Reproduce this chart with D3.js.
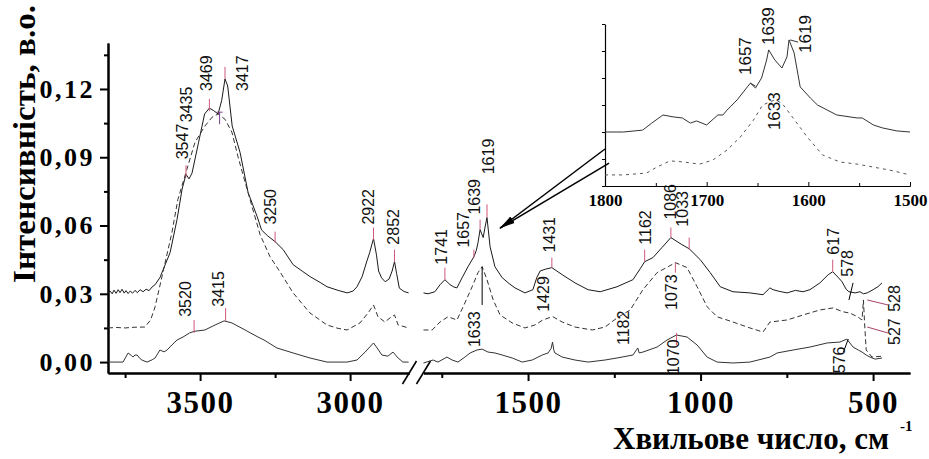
<!DOCTYPE html>
<html>
<head>
<meta charset="utf-8">
<script src="https://cdn.jsdelivr.net/npm/d3@7/dist/d3.min.js"></script>
<style>
	body { margin: 0; background: #fff; }
	svg { display: block; }
	.serif { font-family: "Liberation Serif", "Times New Roman", serif; font-weight: bold; }
	.peak { font-family: "Liberation Sans", Arial, sans-serif; fill: #111; }
</style>
</head>
<body>
<svg id="chart" width="929" height="459"></svg>
<script>
/*global d3 */

// [wavenumber, absorbance] - top solid curve
var topLeft = [[3807,0.0305],[3800,0.0312],[3793,0.0300],[3787,0.0316],[3780,0.0302],[3773,0.0318],[3767,0.0305],[3760,0.0320],[3753,0.0303],[3747,0.0314],[3740,0.0301],[3733,0.0312],[3725,0.0303],[3717,0.0315],[3709,0.0305],[3700,0.0318],[3690,0.0309],[3680,0.0320],[3670,0.0314],[3660,0.0330],[3650,0.0340],[3634,0.0371],[3600,0.0481],[3577,0.0626],[3560,0.0760],[3547,0.0825],[3537,0.0805],[3527,0.0830],[3505,0.0966],[3485,0.1090],[3469,0.1116],[3455,0.1105],[3440,0.1090],[3428,0.1150],[3417,0.1244],[3408,0.1213],[3393,0.1037],[3367,0.0922],[3340,0.0745],[3310,0.0640],[3295,0.0580],[3275,0.0555],[3250,0.0529],[3223,0.0494],[3190,0.0428],[3160,0.0400],[3133,0.0375],[3100,0.0350],[3077,0.0331],[3040,0.0315],[3010,0.0304],[2990,0.0312],[2977,0.0331],[2960,0.0375],[2945,0.0440],[2935,0.0480],[2922,0.0543],[2912,0.0470],[2905,0.0400],[2895,0.0370],[2883,0.0353],[2870,0.0365],[2860,0.0400],[2852,0.0441],[2845,0.0390],[2836,0.0325],[2820,0.0310],[2805,0.0304]];
var topRight = [[1803,0.0304],[1790,0.0300],[1770,0.0309],[1755,0.0340],[1741,0.0362],[1726,0.0340],[1715,0.0330],[1706,0.0326],[1691,0.0371],[1674,0.0419],[1657,0.0463],[1650,0.0490],[1645,0.0525],[1639,0.0582],[1630,0.0547],[1625,0.0590],[1619,0.0635],[1610,0.0507],[1596,0.0419],[1575,0.0371],[1555,0.0345],[1538,0.0326],[1509,0.0304],[1486,0.0318],[1475,0.0370],[1465,0.0400],[1450,0.0408],[1431,0.0415],[1401,0.0384],[1364,0.0348],[1326,0.0318],[1291,0.0309],[1242,0.0331],[1196,0.0362],[1175,0.0410],[1162,0.0441],[1138,0.0459],[1112,0.0503],[1086,0.0547],[1054,0.0516],[1033,0.0498],[1001,0.0450],[972,0.0393],[943,0.0331],[906,0.0309],[857,0.0304],[819,0.0296],[799,0.0326],[790,0.0318],[770,0.0310],[749,0.0304],[725,0.0315],[703,0.0309],[683,0.0318],[654,0.0348],[630,0.0384],[617,0.0397],[600,0.0370],[590,0.0353],[578,0.0320],[570,0.0309],[552,0.0304],[538,0.0309],[528,0.0300],[517,0.0304],[500,0.0318],[486,0.0331],[474,0.0348]];

// dashed middle curve
var dashLeft = [[3807,0.0150],[3780,0.0152],[3750,0.0150],[3720,0.0153],[3684,0.0154],[3665,0.0185],[3650,0.0243],[3624,0.0393],[3594,0.0569],[3574,0.0715],[3544,0.0847],[3517,0.0966],[3484,0.1037],[3460,0.1076],[3440,0.1090],[3417,0.1067],[3394,0.1010],[3374,0.0904],[3350,0.0790],[3327,0.0684],[3300,0.0560],[3267,0.0463],[3234,0.0397],[3190,0.0304],[3134,0.0216],[3077,0.0163],[3040,0.0148],[3010,0.0141],[2967,0.0172],[2940,0.0216],[2922,0.0251],[2907,0.0199],[2884,0.0176],[2867,0.0194],[2852,0.0207],[2840,0.0163],[2805,0.0150]];
var dashRight = [[1803,0.0141],[1778,0.0141],[1755,0.0176],[1732,0.0199],[1706,0.0185],[1683,0.0260],[1662,0.0331],[1645,0.0393],[1633,0.0419],[1619,0.0362],[1601,0.0273],[1581,0.0207],[1546,0.0172],[1509,0.0150],[1480,0.0163],[1457,0.0185],[1429,0.0200],[1401,0.0176],[1364,0.0154],[1314,0.0141],[1277,0.0154],[1242,0.0194],[1204,0.0229],[1167,0.0318],[1126,0.0393],[1094,0.0419],[1073,0.0437],[1039,0.0415],[1010,0.0331],[981,0.0243],[952,0.0199],[906,0.0176],[857,0.0150],[819,0.0132],[799,0.0176],[749,0.0185],[703,0.0207],[654,0.0229],[616,0.0238],[587,0.0221],[567,0.0215],[546,0.0200],[532,0.0185],[528,0.0273],[524,0.0154],[520,0.0053],[503,0.0022],[474,0.0026]];

// bottom solid curve
var botLeft = [[3807,0.0000],[3770,0.0000],[3757,0.0000],[3740,0.0040],[3730,0.0030],[3724,0.0022],[3717,0.0031],[3710,0.0031],[3700,0.0015],[3694,0.0009],[3677,0.0000],[3660,0.0010],[3650,0.0018],[3634,0.0053],[3620,0.0045],[3610,0.0053],[3594,0.0075],[3577,0.0097],[3557,0.0110],[3535,0.0128],[3520,0.0135],[3484,0.0141],[3450,0.0163],[3420,0.0181],[3394,0.0172],[3350,0.0141],[3307,0.0110],[3287,0.0097],[3244,0.0062],[3190,0.0040],[3134,0.0018],[3077,0.0000],[3010,0.0000],[2977,0.0009],[2950,0.0044],[2922,0.0084],[2910,0.0062],[2894,0.0031],[2874,0.0026],[2857,0.0044],[2840,0.0018],[2824,0.0000],[2805,0.0000]];
var botRight = [[1803,-0.0004],[1775,0.0009],[1761,0.0000],[1735,0.0022],[1720,0.0009],[1703,0.0000],[1683,0.0022],[1668,0.0040],[1648,0.0053],[1633,0.0057],[1616,0.0044],[1596,0.0040],[1575,0.0031],[1546,0.0018],[1517,0.0000],[1488,0.0009],[1459,0.0031],[1442,0.0040],[1433,0.0060],[1429,0.0088],[1425,0.0050],[1422,0.0040],[1401,0.0022],[1364,0.0009],[1326,0.0000],[1277,0.0009],[1242,0.0018],[1196,0.0031],[1182,0.0062],[1178,0.0040],[1167,0.0044],[1126,0.0066],[1097,0.0097],[1070,0.0119],[1039,0.0110],[1010,0.0075],[981,0.0022],[952,0.0000],[906,-0.0004],[857,0.0000],[799,0.0022],[778,0.0040],[732,0.0053],[683,0.0066],[633,0.0084],[596,0.0088],[576,0.0101],[558,0.0066],[543,0.0053],[532,0.0044],[520,0.0031],[509,0.0022],[494,0.0013],[474,0.0018]];

// inset (1800-1500), arbitrary units
var insetTop = [[1800,2.00],[1782,2.00],[1763,2.07],[1754,2.33],[1743,2.63],[1733,2.56],[1724,2.52],[1716,2.33],[1710,2.41],[1700,2.26],[1689,2.63],[1684,2.63],[1680,2.81],[1670,3.19],[1660,3.67],[1657,3.81],[1652,3.63],[1646,4.00],[1641,4.67],[1639,5.04],[1633,4.67],[1626,4.37],[1621,4.78],[1619,5.41],[1614,4.93],[1608,3.67],[1598,3.26],[1591,3.00],[1572,2.63],[1552,2.52],[1547,2.52],[1536,2.26],[1527,2.15],[1513,2.04],[1500,2.00]];
var insetDash = [[1800,0.41],[1782,0.41],[1759,0.48],[1749,0.70],[1736,0.93],[1723,0.89],[1707,0.81],[1694,0.96],[1680,1.33],[1667,1.81],[1654,2.44],[1645,3.00],[1633,3.19],[1626,3.07],[1615,2.52],[1601,1.81],[1586,1.15],[1569,0.89],[1552,0.81],[1536,0.70],[1520,0.59],[1500,0.41]];

var yMajor = [0, 0.03, 0.06, 0.09, 0.12];
var yMinor = [0.015, 0.045, 0.075, 0.105, 0.135];
var xLeftMajor = [3500, 3000], xLeftMinor = [3750, 3250];
var xRightMajor = [1500, 1000, 500], xRightMinor = [1750, 1250, 750];
var insetMajor = [1800, 1700, 1600, 1500], insetMinor = [1750, 1650, 1550];
var insetYTicks = [0, 1, 2, 3, 4, 5, 6];

// [text, wavenumber, absorbance] of the label start
var peakLabels = [['3547',3560,0.0891],['3435',3547,0.1054],['3469',3480,0.1191],['3417',3360,0.1191],['3250',3264,0.0604],['2922',2940,0.0604],['2852',2857,0.0516],['3520',3550,0.0199],['3415',3440,0.0243],['1741',1752,0.0428],['1657',1686,0.0503],['1639',1654,0.0648],['1619',1616,0.0825],['1431',1439,0.0481],['1633',1654,0.0066],['1429',1454,0.0221],['1162',1161,0.0516],['1086',1088,0.0626],['1033',1051,0.0595],['1182',1222,0.0075],['1073',1085,0.0229],['1070',1079,-0.0057],['617',616,0.0472],['578',573,0.0375],['528',439,0.0221],['527',439,0.0075],['576',596,-0.0049]];
var insetLabels = [['1657',1662,4.11],['1639',1639,5.22],['1619',1603,4.93],['1633',1633,2.07]];

// [wavenumber, from, to]
var pinkTicks = [[3547,0.0812,0.0865],[3469,0.1103,0.1156],[3417,0.1244,0.1297],[3250,0.0525,0.0573],[2922,0.0538,0.0591],[2852,0.0441,0.0494],[3520,0.0128,0.0185],[3415,0.0181,0.0238],[1741,0.0362,0.0415],[1657,0.0459,0.0494],[1639,0.0582,0.0626],[1619,0.0635,0.0693],[1431,0.0415,0.0459],[1162,0.0441,0.0494],[1086,0.0547,0.0591],[1033,0.0494,0.0547],[617,0.0397,0.0450],[1073,0.0393,0.0437],[1070,0.0075,0.0128]];
var purpleTicks = [[3435,0.1045,0.1098]];
var blackTicks = [[1633,0.0251,0.0419]];
// [w1, v1, w2, v2]
var pinkLeaders = [[517,0.0273,457,0.0251],[517,0.0154,457,0.0128]];
var blackLeaders = [[558,0.0348,570,0.0273],[572,0.0101,586,0.0044]];
var insetLeaders = [[1618,5.41,1610,5.33],[1657,3.81,1652,3.70]];

(function () {
	'use strict';
	var svg = d3.select('#chart'),
		y, xl, xr, ix, iy, seg,
		drawCurve, drawTicks, drawAxisX, styleAxis, g, arrowFrom;

	y = d3.scaleLinear().domain([-0.0048, 0.1402]).range([373, 43]);
	xl = d3.scaleLinear().domain([3807, 2802]).range([108, 409.5]);
	xr = d3.scaleLinear().domain([1803, 393]).range([423.5, 910]);
	ix = d3.scaleLinear().domain([1800, 1500]).range([605, 910]);
	iy = d3.scaleLinear().domain([0, 6]).range([186, 24]);

	seg = function (w) {
		return w > 2000 ? xl(w) : xr(w);
	};

	drawCurve = function (data, xs, ys, dash, color) {
		svg.append('path')
			.datum(data)
			.attr('fill', 'none')
			.attr('stroke', color)
			.attr('stroke-width', 1)
			.attr('stroke-dasharray', dash)
			.attr('d', d3.line().x(function (d) { return xs(d[0]); }).y(function (d) { return ys(d[1]); }));
	};

	styleAxis = function (sel, fontSize, spacing) {
		sel.select('.domain').attr('stroke-width', 2);
		sel.selectAll('.tick line').attr('stroke-width', 2);
		sel.selectAll('text')
			.attr('class', 'serif')
			.style('font-size', fontSize + 'px')
			.style('letter-spacing', spacing + 'px')
			.attr('fill', '#000');
		sel.attr('font-family', null).attr('font-size', null);
	};

	// y axis
	g = svg.append('g').attr('transform', 'translate(108,0)')
		.call(d3.axisLeft(y).tickValues(yMinor).tickSize(4).tickSizeOuter(0).tickFormat(''));
	styleAxis(g, 26, 0);
	g = svg.append('g').attr('transform', 'translate(108,0)')
		.call(d3.axisLeft(y).tickValues(yMajor).tickSize(8).tickSizeOuter(0).tickPadding(5)
			.tickFormat(function (d) { return d.toFixed(2).replace('.', ','); }));
	styleAxis(g, 26, 2.5);

	// broken x axis
	drawAxisX = function (xs, major, minor) {
		var a = svg.append('g').attr('transform', 'translate(0,373)')
			.call(d3.axisBottom(xs).tickValues(minor).tickSize(5).tickSizeOuter(0).tickFormat(''));
		styleAxis(a, 31, 0);
		a = svg.append('g').attr('transform', 'translate(0,373)')
			.call(d3.axisBottom(xs).tickValues(major).tickSize(8).tickSizeOuter(0).tickPadding(10).tickFormat(d3.format('d')));
		styleAxis(a, 31, 1.5);
	};
	drawAxisX(xl, xLeftMajor, xLeftMinor);
	drawAxisX(xr, xRightMajor, xRightMinor);

	[xl.range()[1], xr.range()[0]].forEach(function (bx) {
		svg.append('line')
			.attr('x1', bx - 7).attr('y1', 384)
			.attr('x2', bx + 7).attr('y2', 361)
			.attr('stroke', '#000').attr('stroke-width', 1.6);
	});

	// curves
	drawCurve(topLeft, xl, y, null, '#1a1a1a');
	drawCurve(topRight, xr, y, null, '#1a1a1a');
	drawCurve(dashLeft, xl, y, '5,3', '#333');
	drawCurve(dashRight, xr, y, '5,3', '#333');
	drawCurve(botLeft, xl, y, null, '#333');
	drawCurve(botRight, xr, y, null, '#333');

	// peak markers
	drawTicks = function (data, color) {
		svg.selectAll(null).data(data).enter().append('line')
			.attr('x1', function (d) { return seg(d[0]); })
			.attr('x2', function (d) { return seg(d[0]); })
			.attr('y1', function (d) { return y(d[1]); })
			.attr('y2', function (d) { return y(d[2]); })
			.attr('stroke', color).attr('stroke-width', 1);
	};
	drawTicks(pinkTicks, '#d2587a');
	drawTicks(purpleTicks, '#7a3f8a');
	drawTicks(blackTicks, '#000');
	svg.selectAll(null).data(purpleTicks).enter().append('line')
		.attr('x1', function (d) { return seg(d[0]) - 3; })
		.attr('x2', function (d) { return seg(d[0]) + 3; })
		.attr('y1', function (d) { return y(d[2]); })
		.attr('y2', function (d) { return y(d[2]); })
		.attr('stroke', '#7a3f8a').attr('stroke-width', 1);

	svg.selectAll(null).data(pinkLeaders.concat(blackLeaders)).enter().append('line')
		.attr('x1', function (d) { return seg(d[0]); })
		.attr('y1', function (d) { return y(d[1]); })
		.attr('x2', function (d) { return seg(d[2]); })
		.attr('y2', function (d) { return y(d[3]); })
		.attr('stroke', function (d, i) { return i < pinkLeaders.length ? '#a8406a' : '#000'; })
		.attr('stroke-width', 1);

	svg.selectAll(null).data(peakLabels).enter().append('text')
		.attr('class', 'peak')
		.attr('transform', function (d) { return 'translate(' + seg(d[1]) + ',' + y(d[2]) + ') rotate(-90)'; })
		.attr('dominant-baseline', 'central')
		.style('font-size', '16px')
		.text(function (d) { return d[0]; });

	// inset
	g = svg.append('g').attr('transform', 'translate(0,186)')
		.call(d3.axisBottom(ix).tickValues(insetMinor).tickSize(-3).tickSizeOuter(0).tickFormat(''));
	styleAxis(g, 17, 0);
	g.select('.domain').attr('stroke-width', 1.2);
	g.selectAll('.tick line').attr('stroke-width', 1);
	g = svg.append('g').attr('transform', 'translate(0,186)')
		.call(d3.axisBottom(ix).tickValues(insetMajor).tickSize(-4).tickSizeOuter(0).tickPadding(8).tickFormat(d3.format('d')));
	styleAxis(g, 17, 0);
	g.select('.domain').attr('stroke-width', 1.2);
	g.selectAll('.tick line').attr('stroke-width', 1);
	g = svg.append('g').attr('transform', 'translate(605,0)')
		.call(d3.axisLeft(iy).tickValues(insetYTicks).tickSize(3).tickSizeOuter(0).tickFormat(''));
	g.select('.domain').attr('stroke-width', 1.2);
	g.selectAll('.tick line').attr('stroke-width', 1);

	drawCurve(insetTop, ix, iy, null, '#333');
	drawCurve(insetDash, ix, iy, '3,4', '#555');

	svg.selectAll(null).data(insetLeaders).enter().append('line')
		.attr('x1', function (d) { return ix(d[0]); })
		.attr('y1', function (d) { return iy(d[1]); })
		.attr('x2', function (d) { return ix(d[2]); })
		.attr('y2', function (d) { return iy(d[3]); })
		.attr('stroke', '#333').attr('stroke-width', 1);

	svg.selectAll(null).data(insetLabels).enter().append('text')
		.attr('class', 'peak')
		.attr('transform', function (d) { return 'translate(' + ix(d[1]) + ',' + iy(d[2]) + ') rotate(-90)'; })
		.attr('dominant-baseline', 'central')
		.style('font-size', '17px')
		.text(function (d) { return d[0]; });

	// arrow from the inset to the 1600 region
	svg.append('defs').append('marker')
		.attr('id', 'head')
		.attr('viewBox', '0 -4 16 8')
		.attr('refX', 15).attr('refY', 0)
		.attr('markerUnits', 'userSpaceOnUse')
		.attr('markerWidth', 16).attr('markerHeight', 8)
		.attr('orient', 'auto')
		.append('path').attr('d', 'M0,-3L16,0L0,3Z').attr('fill', '#000');
	arrowFrom = [[1800, 1.37], [1796, 0.85]];
	arrowFrom.forEach(function (p) {
		svg.append('line')
			.attr('x1', ix(p[0])).attr('y1', iy(p[1]))
			.attr('x2', xr(1581)).attr('y2', y(0.0589))
			.attr('stroke', '#000').attr('stroke-width', 1.5)
			.attr('marker-end', 'url(#head)');
	});

	// axis titles
	svg.append('text')
		.attr('class', 'serif')
		.attr('transform', 'translate(35,283) rotate(-90)')
		.attr('textLength', 278)
		.attr('lengthAdjust', 'spacingAndGlyphs')
		.style('font-size', '32px')
		.text('Інтенсивність, в.о.');

	svg.append('text')
		.attr('class', 'serif')
		.attr('x', 613).attr('y', 449)
		.attr('textLength', 276)
		.attr('lengthAdjust', 'spacingAndGlyphs')
		.style('font-size', '31px')
		.text('Хвильове число, см');
	svg.append('text')
		.attr('class', 'serif')
		.attr('x', 900).attr('y', 431)
		.style('font-size', '15px')
		.text('-1');
}());
</script>
</body>
</html>
